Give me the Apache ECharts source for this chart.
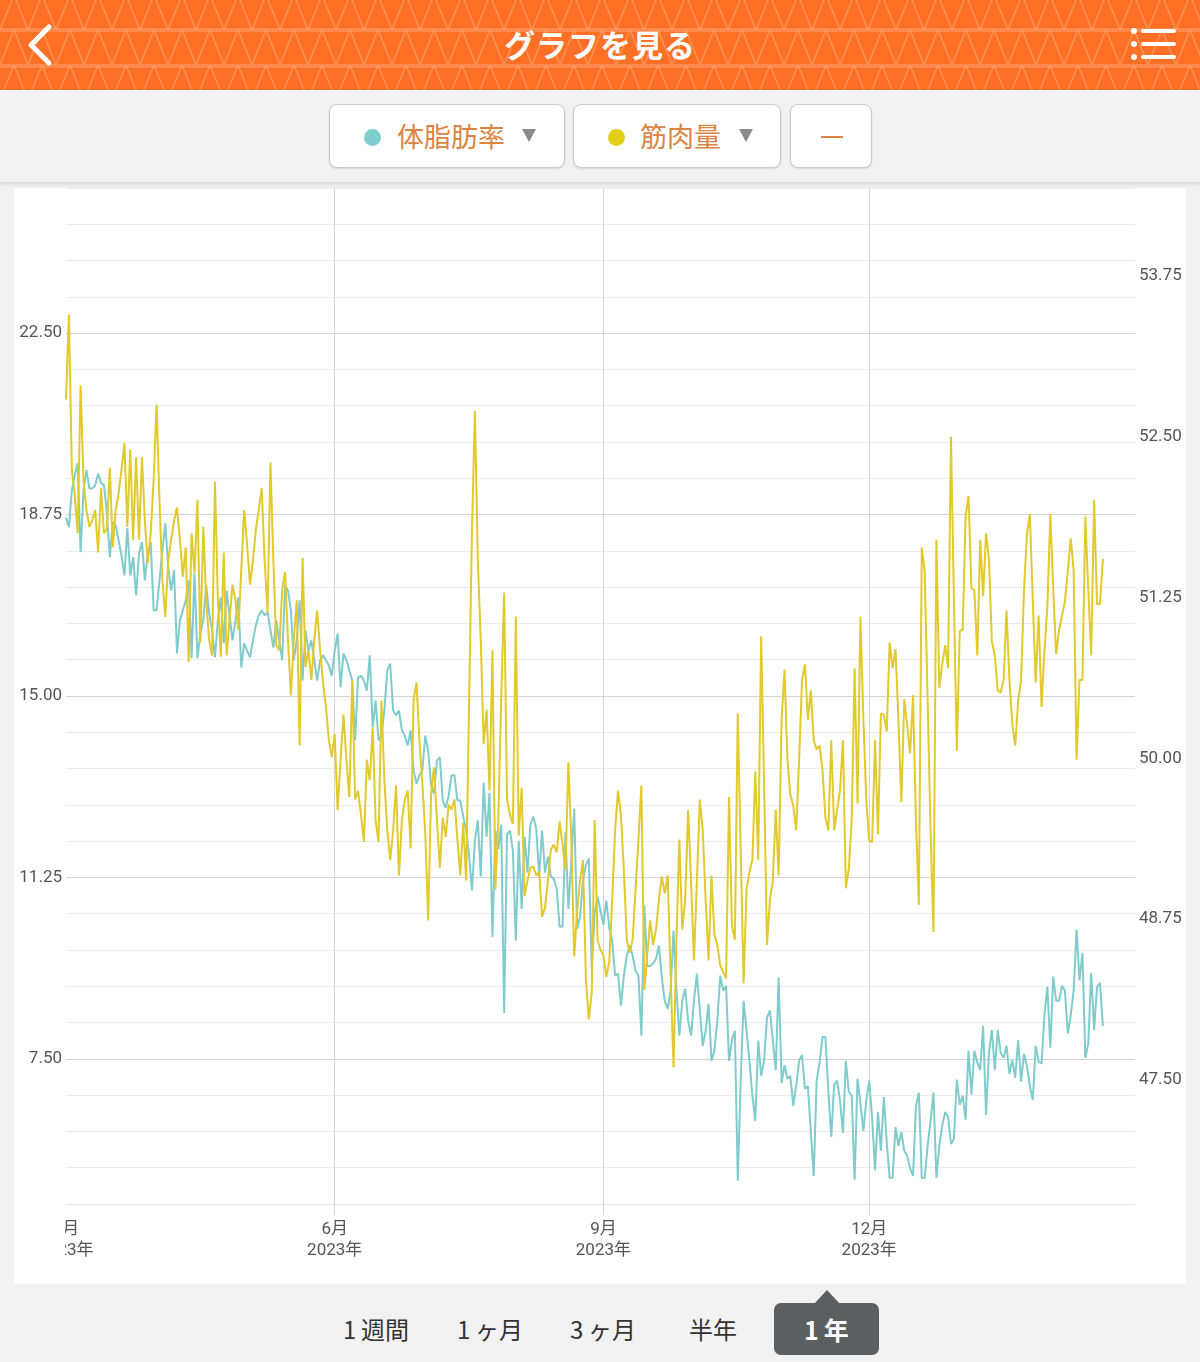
<!DOCTYPE html>
<html>
<head>
<meta charset="utf-8">
<title>グラフを見る</title>
<script src="https://cdn.jsdelivr.net/npm/echarts@6.0.0/dist/echarts.min.js"></script>
<style>
  html, body { margin: 0; padding: 0; }
  body { width: 1200px; height: 1362px; position: relative; overflow: hidden; background: #f2f2f2;
         font-family: "Noto Sans CJK JP", "Noto Sans", sans-serif; }
  .header { position: absolute; left: 0; top: 0; width: 1200px; height: 90px; background-color: #ff6f25;
    background-image: url("data:image/svg+xml,%3Csvg xmlns='http://www.w3.org/2000/svg' width='28' height='35'%3E%3Cpath d='M0 35 L14 0 L28 35' fill='none' stroke='%23ff9152' stroke-width='1.6'/%3E%3C/svg%3E");
    background-position: 0 -5px; }
  .band { position: absolute; left: 0; width: 1200px; height: 4px; background: rgba(255,160,110,0.55); }
  .title { position: absolute; left: 0; top: 22px; width: 1200px; text-align: center; color: #fff;
    font-size: 31px; font-weight: 700; line-height: 44px; letter-spacing: 1px; }
  .bar { position: absolute; left: 0; top: 90px; width: 1200px; height: 92px; background: #f2f2f2;
    border-bottom: 1px solid #dcdcdc; box-shadow: 0 2px 4px rgba(0,0,0,0.08); }
  .btn { position: absolute; top: 104px; height: 62px; background: #fff; border: 1px solid #c9c9c9;
    border-radius: 8px; box-shadow: 0 1px 2px rgba(0,0,0,0.12); }
  .btn .dot { position: absolute; top: 24px; width: 17px; height: 17px; border-radius: 50%; }
  .btn .lbl { position: absolute; top: 12px; font-size: 27px; line-height: 38px; color: #dc8441; }
  .btn .tri { position: absolute; top: 24px; width: 0; height: 0; border-left: 7px solid transparent;
    border-right: 7px solid transparent; border-top: 13px solid #8a8a8a; }
  .card { position: absolute; left: 14px; top: 188px; width: 1172px; height: 1096px; background: #fff; }
  #chart { position: absolute; left: 14px; top: 188px; width: 1172px; height: 1096px; }
  .mask { position: absolute; left: 14px; top: 1212px; width: 51px; height: 60px; background: #fff; }
  .tab { position: absolute; top: 1310px; font-size: 24px; line-height: 38px; color: #333; text-align: center; width: 100px; }
  .pill { position: absolute; left: 774px; top: 1303px; width: 105px; height: 52px; background: #5b5f61; border-radius: 7px; }
  .pointer { position: absolute; left: 814px; top: 1290px; width: 0; height: 0; border-left: 13px solid transparent;
    border-right: 13px solid transparent; border-bottom: 14px solid #5b5f61; }
  .pill span { display: block; text-align: center; color: #fff; font-size: 25px; font-weight: 700; line-height: 52px; }
</style>
</head>
<body>

<div class="header">
  <div class="band" style="top:28px"></div>
  <div class="band" style="top:64px"></div>
  <svg style="position:absolute;left:22px;top:22px" width="36" height="46">
    <polyline points="27,5 9,23 27,41" fill="none" stroke="#fff" stroke-width="5" stroke-linecap="round" stroke-linejoin="round"/>
  </svg>
  <div class="title">グラフを見る</div>
  <svg style="position:absolute;left:1126px;top:26px" width="54" height="38">
    <circle cx="8" cy="5" r="3" fill="#fff"/>
    <circle cx="8" cy="18" r="3" fill="#fff"/>
    <circle cx="8" cy="31" r="3" fill="#fff"/>
    <line x1="17" y1="5" x2="48" y2="5" stroke="#fff" stroke-width="4" stroke-linecap="round"/>
    <line x1="17" y1="18" x2="48" y2="18" stroke="#fff" stroke-width="4" stroke-linecap="round"/>
    <line x1="17" y1="31" x2="48" y2="31" stroke="#fff" stroke-width="4" stroke-linecap="round"/>
  </svg>
</div>

<div class="bar"></div>
<div class="btn" style="left:329px;width:234px">
  <div class="dot" style="left:34px;background:#7fcfcf"></div>
  <div class="lbl" style="left:67px">体脂肪率</div>
  <div class="tri" style="left:192px"></div>
</div>
<div class="btn" style="left:573px;width:206px">
  <div class="dot" style="left:34px;background:#e3cf17"></div>
  <div class="lbl" style="left:66px">筋肉量</div>
  <div class="tri" style="left:165px"></div>
</div>
<div class="btn" style="left:790px;width:80px">
  <div style="position:absolute;left:30px;top:31px;width:22px;height:2px;background:#dc8441"></div>
</div>

<div class="card"></div>
<div id="chart"></div>
<div class="mask"></div>

<div class="tab" style="left:326px">1&#8201;週間</div>
<div class="tab" style="left:440px">1&#8201;ヶ月</div>
<div class="tab" style="left:553px">3&#8201;ヶ月</div>
<div class="tab" style="left:663px">半年</div>
<div class="pointer"></div>
<div class="pill"><span>1&#8201;年</span></div>

<script>
// 体脂肪率 (%) daily, from 2023-03-01
var fatRate = [
  18.69,18.49,19.25,19.56,19.81,17.97,19.25,19.67,19.29,19.29,
  19.36,19.60,19.40,19.36,18.78,17.87,18.59,18.53,18.22,17.91,
  17.49,18.47,17.49,17.87,17.08,17.95,18.18,17.39,17.95,18.18,
  16.77,16.77,17.39,18.01,18.57,17.66,17.18,17.60,15.88,16.56,
  16.77,16.98,17.39,15.78,17.53,15.78,16.29,16.56,17.29,16.71,
  16.36,15.80,16.56,17.04,16.09,17.18,16.67,16.15,16.56,17.04,
  15.59,16.09,15.94,15.80,16.15,16.46,16.67,16.77,16.67,16.73,
  16.36,16.00,16.56,16.15,15.74,17.29,17.18,16.77,15.74,16.15,
  16.98,15.32,16.36,15.94,16.15,15.74,15.32,15.74,15.84,15.74,
  15.63,15.42,15.94,16.29,15.18,15.88,15.74,15.53,15.32,14.08,
  15.38,15.42,15.32,15.11,15.84,14.35,14.91,14.08,14.18,14.70,
  15.53,15.67,14.70,14.60,14.70,14.29,14.18,13.98,14.29,13.46,
  13.19,13.36,13.46,14.18,13.87,13.15,12.98,13.67,13.73,12.84,
  12.69,12.94,13.36,13.36,12.84,12.84,12.51,12.22,11.70,10.98,
  12.01,12.43,11.27,13.21,12.09,13.00,10.02,12.22,11.84,12.34,
  8.45,12.13,12.22,11.80,9.94,12.01,10.60,12.09,11.35,12.34,
  12.51,12.26,11.27,12.22,11.35,11.68,11.27,11.22,11.02,10.23,
  10.23,12.18,10.60,11.60,12.67,10.19,10.44,11.18,11.51,11.64,
  9.36,10.52,10.85,10.56,10.27,10.77,10.21,9.94,9.22,9.26,
  8.60,9.22,9.63,9.84,9.63,9.32,9.22,7.98,10.67,9.42,
  9.42,9.47,9.57,9.84,9.18,8.70,8.53,8.91,10.15,8.91,
  7.98,8.70,8.95,8.29,7.98,8.70,9.26,8.50,7.77,8.08,
  8.64,7.46,7.67,8.29,9.22,8.91,9.01,7.46,7.88,8.08,
  4.98,7.05,8.70,8.08,7.46,6.74,6.22,7.88,7.15,7.46,
  8.35,8.50,7.88,7.27,9.18,7.00,7.37,7.09,7.15,6.53,
  6.94,7.46,7.58,6.88,6.94,6.01,5.08,7.05,7.42,7.95,
  7.95,6.84,5.89,6.96,7.05,6.64,5.97,7.46,6.82,6.74,
  5.00,7.09,6.57,6.01,6.64,7.05,6.28,5.20,6.40,5.60,
  6.71,5.78,5.04,5.04,6.09,5.70,5.99,5.60,5.49,5.24,
  5.08,6.51,6.80,5.04,5.04,5.70,6.22,6.80,5.04,5.70,
  6.12,6.40,6.30,5.74,5.85,7.07,6.55,6.74,6.24,7.67,
  6.76,7.67,7.42,7.27,8.18,6.34,7.63,8.10,7.27,8.10,
  7.63,7.52,7.77,7.19,7.48,7.11,7.89,7.03,7.60,7.35,
  6.94,6.65,7.77,7.44,7.40,8.41,8.99,7.73,9.20,8.70,
  8.70,9.01,8.91,8.02,8.41,8.91,10.17,9.12,9.69,7.52,
  7.81,9.28,8.10,8.99,9.07,8.18
];

// 筋肉量 (kg) daily, same days
var muscleMass = [
  52.79,53.45,52.24,52.05,51.75,52.90,52.16,51.93,51.80,51.85,
  51.93,51.60,52.10,51.75,51.78,52.26,51.64,51.93,52.06,52.24,
  52.45,51.80,52.40,51.70,52.34,51.70,52.34,51.85,51.52,51.75,
  52.16,52.75,52.01,51.39,51.10,51.54,51.70,51.85,51.95,51.70,
  51.41,51.64,50.75,51.75,51.44,52.01,50.90,51.80,51.23,50.92,
  50.80,52.15,51.23,50.79,51.60,50.80,51.08,51.35,51.23,51.00,
  51.46,51.93,51.66,51.35,51.54,51.78,51.93,52.10,51.54,51.13,
  52.30,51.54,50.88,50.84,51.31,51.45,50.92,50.49,50.92,51.23,
  50.10,51.56,50.71,50.84,50.61,50.92,51.15,50.84,50.59,50.40,
  50.14,50.01,50.19,49.60,49.99,50.34,49.99,49.70,50.61,49.68,
  49.75,49.56,49.35,49.99,49.83,50.24,49.52,49.35,50.45,49.83,
  49.44,49.21,49.44,49.79,49.09,49.52,49.68,49.75,49.30,50.45,
  50.59,50.14,49.81,49.42,48.74,49.73,49.93,49.52,49.15,49.54,
  49.39,49.64,49.60,49.68,49.37,49.09,49.50,49.05,50.42,51.78,
  52.70,51.54,50.92,50.11,50.38,49.75,50.84,48.98,49.51,50.45,
  51.29,49.68,49.56,49.49,51.10,49.40,49.77,48.93,49.05,49.15,
  49.16,49.09,49.12,48.77,48.84,49.05,49.29,49.33,49.27,49.51,
  49.33,49.13,49.97,49.37,48.46,48.81,49.05,49.21,48.28,47.97,
  48.18,49.52,48.59,48.51,48.47,48.30,48.42,48.90,49.44,49.75,
  49.56,49.13,48.59,48.49,48.59,48.98,49.37,49.79,48.20,48.47,
  48.74,48.55,48.67,48.90,49.08,48.95,49.09,48.32,47.60,48.59,
  49.37,48.67,48.90,49.60,49.05,48.43,49.05,49.68,49.44,48.90,
  48.43,49.09,48.63,48.55,48.39,48.34,48.29,49.70,48.70,48.59,
  50.35,49.29,48.25,48.98,49.12,49.21,49.90,49.21,50.95,49.83,
  48.55,48.90,49.05,49.60,49.09,50.30,50.69,49.99,49.72,49.63,
  49.44,49.99,50.61,50.73,50.30,50.53,50.14,50.07,50.10,49.91,
  49.54,49.44,50.14,49.44,49.60,49.75,50.14,48.99,49.14,49.52,
  50.70,49.65,51.10,50.30,49.68,49.36,49.35,50.14,49.41,50.35,
  50.34,50.21,50.90,50.70,50.85,50.30,49.66,50.46,50.26,50.04,
  50.49,49.52,48.86,51.64,51.45,50.45,49.44,48.65,51.70,50.55,
  50.73,50.88,50.70,52.50,51.23,50.06,50.99,51.00,51.88,52.04,
  51.32,51.31,50.80,51.70,51.26,51.75,51.55,50.91,50.80,50.53,
  50.51,50.61,51.15,50.61,50.26,50.10,50.45,50.61,51.31,51.74,
  51.90,51.23,50.59,51.11,50.40,50.84,51.18,51.90,51.31,50.81,
  51.00,51.11,51.22,51.46,51.71,51.46,49.99,50.61,50.61,51.88,
  51.31,50.80,52.01,51.20,51.20,51.55
];

// tick labels
var leftLabelStep = 3.75;
var rightLabels = [47.5, 48.75, 50, 51.25, 52.5, 53.75];
var tickMonths = [3, 6, 9, 12];

// x axis: one category per day, 2023-03-01 .. 2024-03-01
var days = [];
var start = Date.UTC(2023, 2, 1);
for (var i = 0; i <= 366; i++) {
    var dt = new Date(start + i * 86400000);
    var mm = dt.getUTCMonth() + 1, dd = dt.getUTCDate();
    days.push(dt.getUTCFullYear() + '-' + (mm > 9 ? mm : '0' + mm) + '-' + (dd > 9 ? dd : '0' + dd));
}

function isQuarter(idx) {
    var p = days[idx].split('-');
    return p[0] === '2023' && p[2] === '01' && tickMonths.indexOf(parseInt(p[1], 10)) >= 0;
}

var myChart = echarts.init(document.getElementById('chart'));
var baseFont = "Roboto, 'Noto Sans CJK JP', sans-serif";

var option = {
    animation: false,
    textStyle: { fontFamily: baseFont },
    grid: { left: 52, right: 51, top: 0, bottom: 80 },
    xAxis: {
        type: 'category',
        data: days,
        boundaryGap: false,
        axisLine: { lineStyle: { color: '#e4e4e4', width: 1 } },
        axisTick: {
            show: true,
            length: 11,
            interval: function (idx) { return idx > 0 && isQuarter(idx); },
            lineStyle: { color: '#d6d6d6' }
        },
        axisLabel: {
            interval: function (idx) { return isQuarter(idx); },
            formatter: function (v) {
                var p = v.split('-');
                return parseInt(p[1], 10) + '月\n' + p[0] + '年';
            },
            color: '#555',
            fontSize: 17,
            lineHeight: 21,
            margin: 15
        },
        splitLine: {
            show: true,
            interval: function (idx) { return idx > 0 && isQuarter(idx); },
            lineStyle: { color: '#d6d6d6', width: 1 }
        }
    },
    yAxis: [
        {
            type: 'value',
            min: 4.5,
            max: 25.5,
            interval: 0.75,
            axisLine: { show: false },
            axisTick: { show: false },
            axisLabel: {
                color: '#555',
                fontSize: 17,
                margin: 4,
                formatter: function (v) {
                    var r = v / leftLabelStep;
                    return Math.abs(r - Math.round(r)) < 1e-6 ? v.toFixed(2) : '';
                }
            },
            splitLine: {
                lineStyle: { color: ['#ececec', '#ececec', '#ececec', '#ececec', '#d3d3d3'], width: 1 }
            }
        },
        {
            type: 'value',
            min: 46.536,
            max: 54.434,
            position: 'right',
            axisLine: { show: false },
            axisTick: { show: false },
            splitLine: { show: false },
            axisLabel: {
                customValues: rightLabels,
                color: '#555',
                fontSize: 17,
                margin: 4,
                formatter: function (v) { return v.toFixed(2); }
            }
        }
    ],
    series: [
        {
            name: '体脂肪率',
            type: 'line',
            yAxisIndex: 0,
            data: fatRate,
            showSymbol: false,
            symbol: 'none',
            lineStyle: { color: '#80cccc', width: 2 },
            itemStyle: { color: '#80cccc' }
        },
        {
            name: '筋肉量',
            type: 'line',
            yAxisIndex: 1,
            data: muscleMass,
            showSymbol: false,
            symbol: 'none',
            lineStyle: { color: '#e2c92c', width: 2 },
            itemStyle: { color: '#e2c92c' }
        }
    ]
};

myChart.setOption(option);
</script>
</body>
</html>
